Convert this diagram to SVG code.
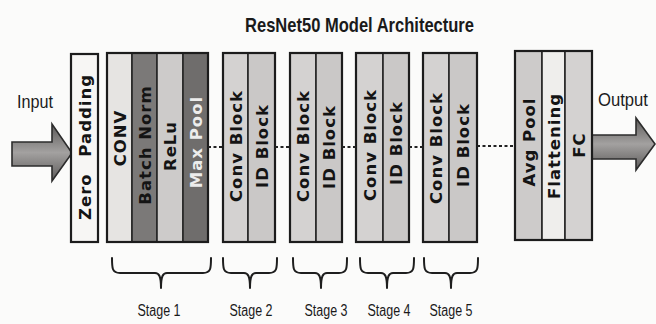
<svg xmlns="http://www.w3.org/2000/svg" width="656" height="324" viewBox="0 0 656 324">
  <defs>
    <style>
      .cell{stroke:#262626;stroke-width:1.6}
      .frame{fill:none;stroke:#1c1c1c;stroke-width:2.2}
      .lbl{font-family:"DejaVu Sans",Verdana,sans-serif;font-weight:bold;font-size:16.5px;letter-spacing:1px;text-anchor:middle;fill:#141414}
      .cap{font-family:"Liberation Sans",Arial,sans-serif;fill:#1a1a1a;text-anchor:middle}
      .dots{stroke:#222;stroke-width:2;stroke-dasharray:3 2.5;fill:none}
      .brace{fill:none;stroke:#1e1e1e;stroke-width:2;stroke-linecap:round;stroke-linejoin:round}
      .arrow{fill:url(#arrowFill);stroke:#2c2c2c;stroke-width:1.6;stroke-linejoin:miter}
      .light{fill:#e6e4e2}
      .dark{fill:#7b7978}
      .mid{fill:#cdcbca}
      .darker{fill:#6f6d6c}
      .blk{fill:#d4d2d1}
      .blk2{fill:#cac8c7}
      .pale{fill:#efeeec}
    </style>
    <linearGradient id="arrowFill" x1="0" y1="0" x2="0" y2="1">
      <stop offset="0" stop-color="#5c5a59"/>
      <stop offset="0.5" stop-color="#a3a1a0"/>
      <stop offset="1" stop-color="#5c5a59"/>
    </linearGradient>
  </defs>

  <rect width="656" height="324" fill="#fbfbfa"/>

  <!-- title -->
  <text class="cap" x="359.5" y="32" font-size="21" font-weight="bold" textLength="229" lengthAdjust="spacingAndGlyphs">ResNet50 Model Architecture</text>

  <!-- input / output arrows -->
  <g id="input">
    <text class="cap" x="35" y="108" font-size="19" textLength="36" lengthAdjust="spacingAndGlyphs">Input</text>
    <path class="arrow" d="M12,142 L52,142 L52,124 L72,153 L52,181 L52,166 L12,166 Z"/>
  </g>
  <g id="output">
    <text class="cap" x="623" y="106" font-size="19" textLength="50" lengthAdjust="spacingAndGlyphs">Output</text>
    <path class="arrow" d="M592,135 L636,135 L636,118 L655,144 L636,170 L636,159 L592,159 Z"/>
  </g>

  <!-- zero padding -->
  <g id="zero-padding">
    <rect x="71" y="54" width="27" height="188" fill="#f7f6f4" class="cell"/>
    <rect x="71" y="54" width="27" height="188" class="frame"/>
    <text class="lbl" transform="translate(90.5,147) rotate(-90)" word-spacing="10">Zero Padding</text>
  </g>

  <!-- stage 1 -->
  <g id="stage1">
    <rect x="107" y="53" width="25" height="189" class="cell light"/>
    <rect x="132" y="53" width="25" height="189" class="cell dark"/>
    <rect x="157" y="53" width="26" height="189" class="cell mid"/>
    <rect x="183" y="53" width="25" height="189" class="cell darker"/>
    <rect x="107" y="53" width="101" height="189" class="frame"/>
    <text class="lbl" transform="translate(125.5,138) rotate(-90)">CONV</text>
    <text class="lbl" transform="translate(150.5,145) rotate(-90)">Batch Norm</text>
    <text class="lbl" transform="translate(176,146) rotate(-90)">ReLu</text>
    <text class="lbl" transform="translate(201.5,142) rotate(-90)" style="fill:#ececec">Max Pool</text>
  </g>

  <!-- stage 2 -->
  <g id="stage2">
    <rect x="223" y="53" width="25" height="189" class="cell blk"/>
    <rect x="248" y="53" width="27" height="189" class="cell blk2"/>
    <rect x="223" y="53" width="52" height="189" class="frame"/>
    <text class="lbl" transform="translate(241.5,146) rotate(-90)">Conv Block</text>
    <text class="lbl" transform="translate(267.5,146) rotate(-90)">ID Block</text>
  </g>

  <!-- stage 3 -->
  <g id="stage3">
    <rect x="290" y="53" width="26" height="189" class="cell blk"/>
    <rect x="316" y="53" width="26" height="189" class="cell blk2"/>
    <rect x="290" y="53" width="52" height="189" class="frame"/>
    <text class="lbl" transform="translate(309,146) rotate(-90)">Conv Block</text>
    <text class="lbl" transform="translate(335,147) rotate(-90)">ID Block</text>
  </g>

  <!-- stage 4 -->
  <g id="stage4">
    <rect x="356" y="53" width="27" height="189" class="cell blk"/>
    <rect x="383" y="53" width="26" height="189" class="cell blk2"/>
    <rect x="356" y="53" width="53" height="189" class="frame"/>
    <text class="lbl" transform="translate(375.5,145) rotate(-90)">Conv Block</text>
    <text class="lbl" transform="translate(402,143) rotate(-90)">ID Block</text>
  </g>

  <!-- stage 5 -->
  <g id="stage5">
    <rect x="423" y="53" width="26" height="189" class="cell blk"/>
    <rect x="449" y="53" width="28" height="189" class="cell blk2"/>
    <rect x="423" y="53" width="54" height="189" class="frame"/>
    <text class="lbl" transform="translate(442,148) rotate(-90)">Conv Block</text>
    <text class="lbl" transform="translate(469,145) rotate(-90)">ID Block</text>
  </g>

  <!-- head: pooling, flattening, fully connected -->
  <g id="head">
    <rect x="515" y="51" width="27" height="189" class="cell mid"/>
    <rect x="542" y="51" width="23" height="189" class="cell pale"/>
    <rect x="565" y="51" width="27" height="189" class="cell blk"/>
    <rect x="515" y="51" width="77" height="189" class="frame"/>
    <text class="lbl" transform="translate(534.5,142) rotate(-90)">Avg Pool</text>
    <text class="lbl" transform="translate(559.5,146) rotate(-90)">Flattening</text>
    <text class="lbl" transform="translate(584.5,145) rotate(-90)">FC</text>
  </g>

  <!-- dotted links between stages -->
  <g id="connectors">
    <line class="dots" x1="208" y1="147" x2="223" y2="147"/>
    <line class="dots" x1="275" y1="147" x2="290" y2="147"/>
    <line class="dots" x1="342" y1="147" x2="356" y2="147"/>
    <line class="dots" x1="409" y1="147" x2="423" y2="147"/>
    <line class="dots" x1="477" y1="146" x2="515" y2="146"/>
  </g>

  <!-- stage braces and labels -->
  <g id="braces">
    <path class="brace" d="M112,258 C112,268 112,273 120,273 L155,273 C159,273 161,276 161,288 C161,276 163,273 167,273 L203,273 C211,273 211,268 211,258"/>
    <path class="brace" d="M223,258 C223,268 223,273 231,273 L244,273 C248,273 250,276 250,288 C250,276 252,273 256,273 L269,273 C277,273 277,268 277,258"/>
    <path class="brace" d="M293,258 C293,268 293,273 301,273 L315,273 C319,273 321,276 321,288 C321,276 323,273 327,273 L339,273 C347,273 347,268 347,258"/>
    <path class="brace" d="M360,258 C360,268 360,273 368,273 L381,273 C385,273 387,276 387,288 C387,276 389,273 393,273 L406,273 C414,273 414,268 414,258"/>
    <path class="brace" d="M424,258 C424,268 424,273 432,273 L445,273 C449,273 451,276 451,288 C451,276 453,273 457,273 L470,273 C478,273 478,268 478,258"/>
  </g>
  <g id="stage-labels">
    <text class="cap" x="159" y="316" font-size="16" textLength="43" lengthAdjust="spacingAndGlyphs">Stage 1</text>
    <text class="cap" x="251" y="316" font-size="16" textLength="43" lengthAdjust="spacingAndGlyphs">Stage 2</text>
    <text class="cap" x="326" y="316" font-size="16" textLength="43" lengthAdjust="spacingAndGlyphs">Stage 3</text>
    <text class="cap" x="389" y="316" font-size="16" textLength="43" lengthAdjust="spacingAndGlyphs">Stage 4</text>
    <text class="cap" x="451" y="316" font-size="16" textLength="43" lengthAdjust="spacingAndGlyphs">Stage 5</text>
  </g>
</svg>
